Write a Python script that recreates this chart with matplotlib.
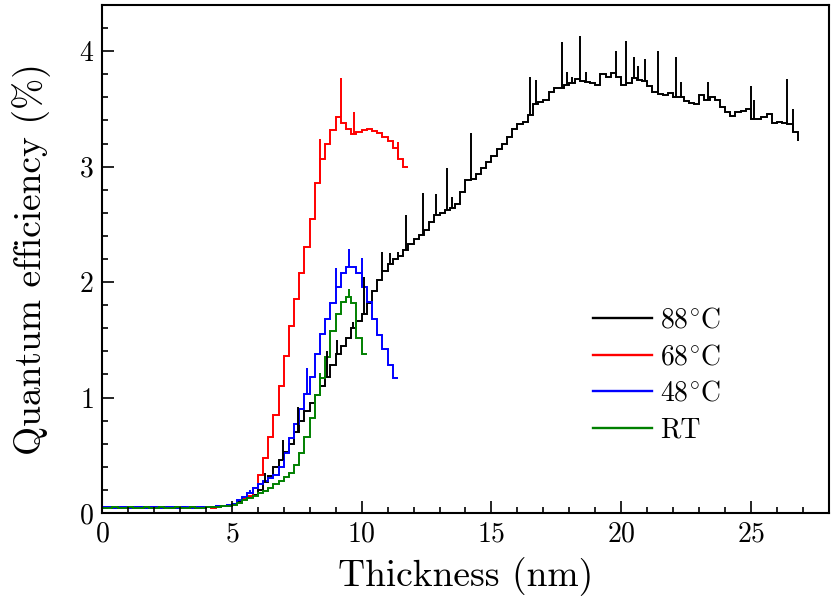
import numpy as np
import matplotlib
matplotlib.use("Agg")
import matplotlib.pyplot as plt

plt.rcParams['font.family'] = ['cmr10']
plt.rcParams['mathtext.fontset'] = 'cm'
plt.rcParams['axes.formatter.use_mathtext'] = True

bin_width = 0.2  # nm

base_0_5 = [0.04, 0.05, 0.04, 0.04, 0.05, 0.04, 0.04, 0.05, 0.04, 0.04,
            0.05, 0.04, 0.05, 0.04, 0.04, 0.05, 0.04, 0.05, 0.04, 0.05,
            0.05, 0.05, 0.06, 0.06, 0.07]

qe_88 = base_0_5 + [
    0.08, 0.10, 0.12, 0.14, 0.16, 0.20, 0.27, 0.32, 0.40, 0.46,
    0.53, 0.60, 0.70, 0.80, 0.88, 0.95, 1.02, 1.10, 1.18, 1.28,
    1.38, 1.45, 1.52, 1.60, 1.66, 1.72, 1.82, 1.92, 2.02, 2.10,
    2.16, 2.20, 2.23, 2.28, 2.33, 2.37, 2.41, 2.45, 2.52, 2.58,
    2.60, 2.62, 2.64, 2.68, 2.78, 2.88, 2.89, 2.94, 2.99, 3.04,
    3.09, 3.15, 3.20, 3.26, 3.33, 3.37, 3.39, 3.45, 3.54, 3.56,
    3.58, 3.65, 3.68, 3.68, 3.71, 3.72, 3.76, 3.74, 3.73, 3.72,
    3.71, 3.80, 3.78, 3.81, 3.78, 3.71, 3.72, 3.77, 3.75, 3.74,
    3.70, 3.65, 3.63, 3.62, 3.64, 3.60, 3.60, 3.57, 3.55, 3.54,
    3.62, 3.58, 3.60, 3.58, 3.52, 3.47, 3.44, 3.47, 3.48, 3.50,
    3.41, 3.41, 3.43, 3.46, 3.38, 3.39, 3.38, 3.37, 3.30, 3.22]

qe_68 = [0.04, 0.05, 0.04, 0.05, 0.04, 0.04, 0.05, 0.04, 0.04, 0.05,
         0.04, 0.04, 0.05, 0.04, 0.05, 0.04, 0.04, 0.05, 0.04, 0.05,
         0.05, 0.04, 0.05, 0.06, 0.06,
         0.07, 0.09, 0.12, 0.15, 0.22, 0.33, 0.48, 0.66, 0.85, 1.10,
         1.36, 1.62, 1.85, 2.08, 2.30, 2.55, 2.86, 3.07, 3.20, 3.32,
         3.43, 3.38, 3.33, 3.28, 3.30, 3.32, 3.33, 3.31, 3.29, 3.26,
         3.22, 3.16, 3.07, 3.00]

qe_48 = [0.05, 0.05, 0.04, 0.05, 0.05, 0.04, 0.05, 0.05, 0.04, 0.05,
         0.05, 0.04, 0.05, 0.05, 0.04, 0.05, 0.05, 0.04, 0.05, 0.05,
         0.05, 0.05, 0.06, 0.06, 0.07,
         0.08, 0.11, 0.14, 0.17, 0.22, 0.25, 0.28, 0.30, 0.33, 0.40,
         0.52, 0.65, 0.77, 0.90, 1.03, 1.18, 1.38, 1.55, 1.68, 1.82,
         1.96, 2.08, 2.13, 2.13, 2.08, 1.96, 1.83, 1.68, 1.54, 1.42,
         1.28, 1.17]

qe_rt = [0.04, 0.04, 0.05, 0.04, 0.04, 0.05, 0.04, 0.04, 0.05, 0.04,
         0.04, 0.05, 0.04, 0.04, 0.05, 0.04, 0.04, 0.05, 0.04, 0.04,
         0.05, 0.05, 0.05, 0.06, 0.06,
         0.07, 0.09, 0.11, 0.13, 0.15, 0.17, 0.19, 0.22, 0.25, 0.28,
         0.31, 0.35, 0.42, 0.52, 0.66, 0.82, 1.02, 1.17, 1.35, 1.58,
         1.72, 1.83, 1.87, 1.82, 1.52, 1.38]

# spikes: (thickness nm, peak value)
spikes_88_x = [6.27, 6.96, 7.54, 8.65, 9.04, 9.65, 10.1, 10.8, 11.1, 11.4,
               11.7, 12.38, 12.88, 13.3, 13.5, 14.2, 16.5, 16.7, 17.7, 17.9,
               18.1, 18.4, 18.65, 19.8, 20.2, 20.5, 20.65, 20.9, 21.4, 22.1,
               22.3, 23.35, 25.0, 25.1, 26.4, 26.6]
spikes_88_y = [0.35, 0.63, 0.92, 1.40, 1.50, 1.65, 2.04, 2.26, 2.25, 2.26,
               2.58, 2.77, 2.76, 2.99, 2.74, 3.29, 3.78, 3.75, 4.08, 3.82,
               3.78, 4.13, 3.82, 4.00, 4.09, 3.95, 3.87, 3.93, 4.00, 3.95,
               3.73, 3.73, 3.70, 3.58, 3.76, 3.50]
spikes_68_x = [8.38, 9.2, 9.7, 11.4]
spikes_68_y = [3.24, 3.77, 3.47, 3.21]
spikes_48_x = [5.7, 7.9, 9.0, 9.5, 10.0]
spikes_48_y = [0.20, 1.26, 2.12, 2.29, 2.21]
spikes_rt_x = [8.38, 9.5]
spikes_rt_y = [1.21, 1.94]

labels = [r'$88^{\circ}$C', r'$68^{\circ}$C', r'$48^{\circ}$C', 'RT']
colors = ['black', '#ff0000', '#0000ff', '#008000']

series = [(qe_88, spikes_88_x, spikes_88_y),
          (qe_68, spikes_68_x, spikes_68_y),
          (qe_48, spikes_48_x, spikes_48_y),
          (qe_rt, spikes_rt_x, spikes_rt_y)]

fig = plt.figure(figsize=(8.38, 6.0), dpi=100)
ax = fig.add_axes([0.1217, 0.145, 0.8675, 0.8467])

lw = 1.4
handles = []
for (vals, sx, sy), lab, col in zip(series, labels, colors):
    vals = np.array(vals)
    edges = np.arange(len(vals) + 1) * bin_width
    if len(vals) == len(qe_88):
        edges[-1] = edges[-2] + 0.02
    ax.stairs(vals, edges, color=col, lw=lw, baseline=None)
    idx = np.clip((np.array(sx) / bin_width).astype(int), 0, len(vals) - 1)
    ax.vlines(sx, vals[idx], sy, color=col, lw=lw)
    handles.append(plt.Line2D([], [], color=col, lw=lw + 0.3))

ax.set_xlim(0, 28)
ax.set_ylim(0, 4.4)
ax.set_xticks([0, 5, 10, 15, 20, 25])
ax.set_xticks(np.arange(0, 28.01, 1), minor=True)
ax.set_yticks([0, 1, 2, 3, 4])
ax.set_yticks(np.arange(0, 4.41, 0.2), minor=True)
ax.tick_params(which='both', direction='in', top=False, right=False,
               labelsize=20, width=1.2)
ax.tick_params(which='major', length=8.5, pad=6)
ax.tick_params(which='minor', length=4)
for s in ax.spines.values():
    s.set_linewidth(1.5)

ax.set_xlabel('Thickness (nm)', fontsize=27, labelpad=7)
ax.set_ylabel('Quantum efficiency (%)', fontsize=27, labelpad=20)

leg = ax.legend(handles, labels,
                loc='upper left', bbox_to_anchor=(0.657, 0.432), frameon=False,
                fontsize=20, handlelength=2.1, handletextpad=0.3,
                labelspacing=0.37, borderpad=0)

fig.savefig('out.png', dpi=100)
